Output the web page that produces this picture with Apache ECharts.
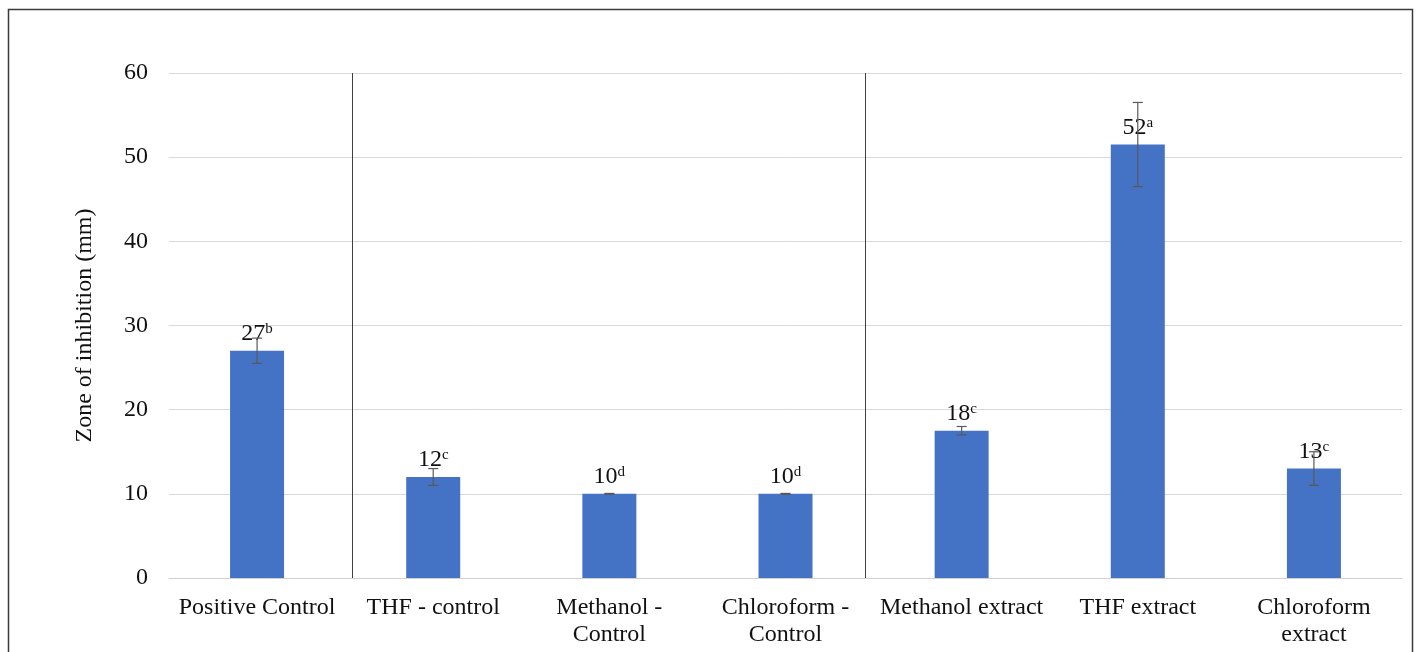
<!DOCTYPE html>
<html>
<head>
<meta charset="utf-8">
<script src="https://cdn.jsdelivr.net/npm/echarts@6/dist/echarts.min.js"></script>
<style>
  html, body { margin: 0; padding: 0; background: #fff; }
  #chart { width: 1418px; height: 652px; }
</style>
</head>
<body>
<div id="chart"></div>
<script>
// Treatments along the x axis
const categories = ['Positive Control', 'THF - control', 'Methanol - Control', 'Chloroform - Control', 'Methanol extract', 'THF extract', 'Chloroform extract'];
// Axis tick labels (wrapped as printed)
const tickLabels = ['Positive Control', 'THF - control', 'Methanol -\nControl', 'Chloroform -\nControl', 'Methanol extract', 'THF extract', 'Chloroform\nextract'];
// Mean zone of inhibition (mm)
const means = [27, 12, 10, 10, 17.5, 51.5, 13];
// Standard deviation (mm)
const errors = [1.5, 1, 0.05, 0.05, 0.5, 5, 2];
// Significance letters
const letters = ['b', 'c', 'd', 'd', 'c', 'a', 'c'];
// Group separators, in category-index units
const dividers = [0.54, 3.45];
// Value axis ticks
const yTicks = [0, 10, 20, 30, 40, 50, 60];

const FONT = '"Liberation Serif", "Times New Roman", serif';
const chart = echarts.init(document.getElementById('chart'));

chart.setOption({
  backgroundColor: '#fff',
  animation: false,
  graphic: [{
    type: 'rect',
    shape: { x: 8.5, y: 9.5, width: 1404, height: 700 },
    style: { fill: 'none', stroke: '#3a3a3a', lineWidth: 1.5 },
    silent: true
  }],
  grid: { left: 169, right: 16, top: 73, bottom: 74, containLabel: false },
  xAxis: [{
    type: 'category',
    data: categories,
    axisLine: { show: true, lineStyle: { color: '#d0d0d0', width: 1 } },
    axisTick: { show: false },
    axisLabel: {
      interval: 0,
      margin: 16,
      fontFamily: FONT,
      fontSize: 24,
      color: '#111',
      lineHeight: 27,
      formatter: (v, i) => tickLabels[i]
    }
  }, {
    type: 'value',
    min: -0.5,
    max: 6.5,
    show: false
  }],
  yAxis: {
    type: 'value',
    min: yTicks[0],
    max: yTicks[yTicks.length - 1],
    interval: yTicks[1] - yTicks[0],
    name: 'Zone of inhibition (mm)',
    nameLocation: 'middle',
    nameGap: 72,
    nameTextStyle: { fontFamily: FONT, fontSize: 24, color: '#111' },
    axisLine: { show: false },
    axisTick: { show: false },
    splitLine: { lineStyle: { color: '#d9d9d9', width: 1 } },
    axisLabel: { fontFamily: FONT, fontSize: 24, color: '#111', margin: 21 }
  },
  series: [{
    type: 'bar',
    data: means,
    barWidth: 54,
    itemStyle: { color: '#4472C4' },
    label: {
      show: true,
      position: 'top',
      distance: 5,
      formatter: p => '{v|' + Math.round(p.value) + '}{s|' + letters[p.dataIndex] + '}',
      rich: {
        v: { fontFamily: FONT, fontSize: 24, color: '#111' },
        s: { fontFamily: FONT, fontSize: 15, color: '#111', padding: [0, 0, 9, 0] }
      }
    },
    z: 2
  }, {
    type: 'custom',
    data: means.map((m, i) => [i, m - errors[i], m + errors[i]]),
    encode: { x: 0, y: [1, 2] },
    renderItem: (params, api) => {
      const lo = api.coord([api.value(0), api.value(1)]);
      const hi = api.coord([api.value(0), api.value(2)]);
      const cap = 5;
      const st = { stroke: '#595959', lineWidth: 1.2 };
      return {
        type: 'group',
        children: [
          { type: 'line', shape: { x1: lo[0], y1: lo[1], x2: hi[0], y2: hi[1] }, style: st },
          { type: 'line', shape: { x1: lo[0] - cap, y1: lo[1], x2: lo[0] + cap, y2: lo[1] }, style: st },
          { type: 'line', shape: { x1: hi[0] - cap, y1: hi[1], x2: hi[0] + cap, y2: hi[1] }, style: st }
        ]
      };
    },
    z: 3
  }, {
    type: 'line',
    xAxisIndex: 1,
    data: [],
    markLine: {
      silent: true,
      symbol: 'none',
      label: { show: false },
      lineStyle: { color: '#404040', width: 1, type: 'solid' },
      data: dividers.map(d => ({ xAxis: d }))
    }
  }]
});
</script>
</body>
</html>
